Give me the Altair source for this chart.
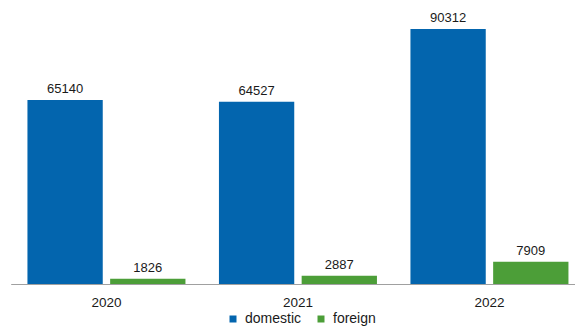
import altair as alt
import pandas as pd

years = ["2020", "2021", "2022"]
domestic = [65140, 64527, 90312]
foreign = [1826, 2887, 7909]
series = ["domestic", "foreign"]
colors = ["#0365ae", "#4c9e38"]

rows = []
for i, y in enumerate(years):
    rows.append({"year": y, "type": "domestic", "value": domestic[i]})
    rows.append({"year": y, "type": "foreign", "value": foreign[i]})
df = pd.DataFrame(rows)

FONT = "Liberation Sans"

base = alt.Chart(df).encode(
    x=alt.X("year:N", title=None, sort=years,
            scale=alt.Scale(paddingInner=0, paddingOuter=0, range=[0.7, 575.2]),
            axis=alt.Axis(labelAngle=0, ticks=False, domainColor="#a0a0a0",
                          labelFont=FONT, labelFontSize=13.5, labelColor="#1a1a1a",
                          labelPadding=11, grid=False)),
    xOffset=alt.XOffset("type:N", sort=series,
                        scale=alt.Scale(paddingInner=0.0895, paddingOuter=0.2025)),
    y=alt.Y("value:Q", title=None, scale=alt.Scale(domain=[0, 97750], nice=False),
            axis=None),
)

bars = base.mark_bar().encode(
    color=alt.Color("type:N", sort=series,
                    scale=alt.Scale(domain=series, range=colors),
                    legend=alt.Legend(title=None, orient="none", direction="horizontal",
                                      legendX=216, legendY=304,
                                      symbolType="square", symbolSize=49,
                                      symbolStrokeWidth=0,
                                      labelFont=FONT, labelFontSize=14,
                                      labelColor="#1a1a1a", columnPadding=12,
                                      labelOffset=5)),
)

labels = base.mark_text(baseline="alphabetic", dy=-7, font=FONT, fontSize=13,
                        color="#1a1a1a").encode(text=alt.Text("value:Q", format="d"))

chart = (bars + labels).properties(
    width=565, height=276,
    autosize=alt.AutoSizeParams(type="none"),
    padding={"left": 2, "top": 0, "right": 0, "bottom": 44},
).configure_view(stroke=None)

chart.save("out.html", embed_options={"renderer": "svg", "actions": False})
